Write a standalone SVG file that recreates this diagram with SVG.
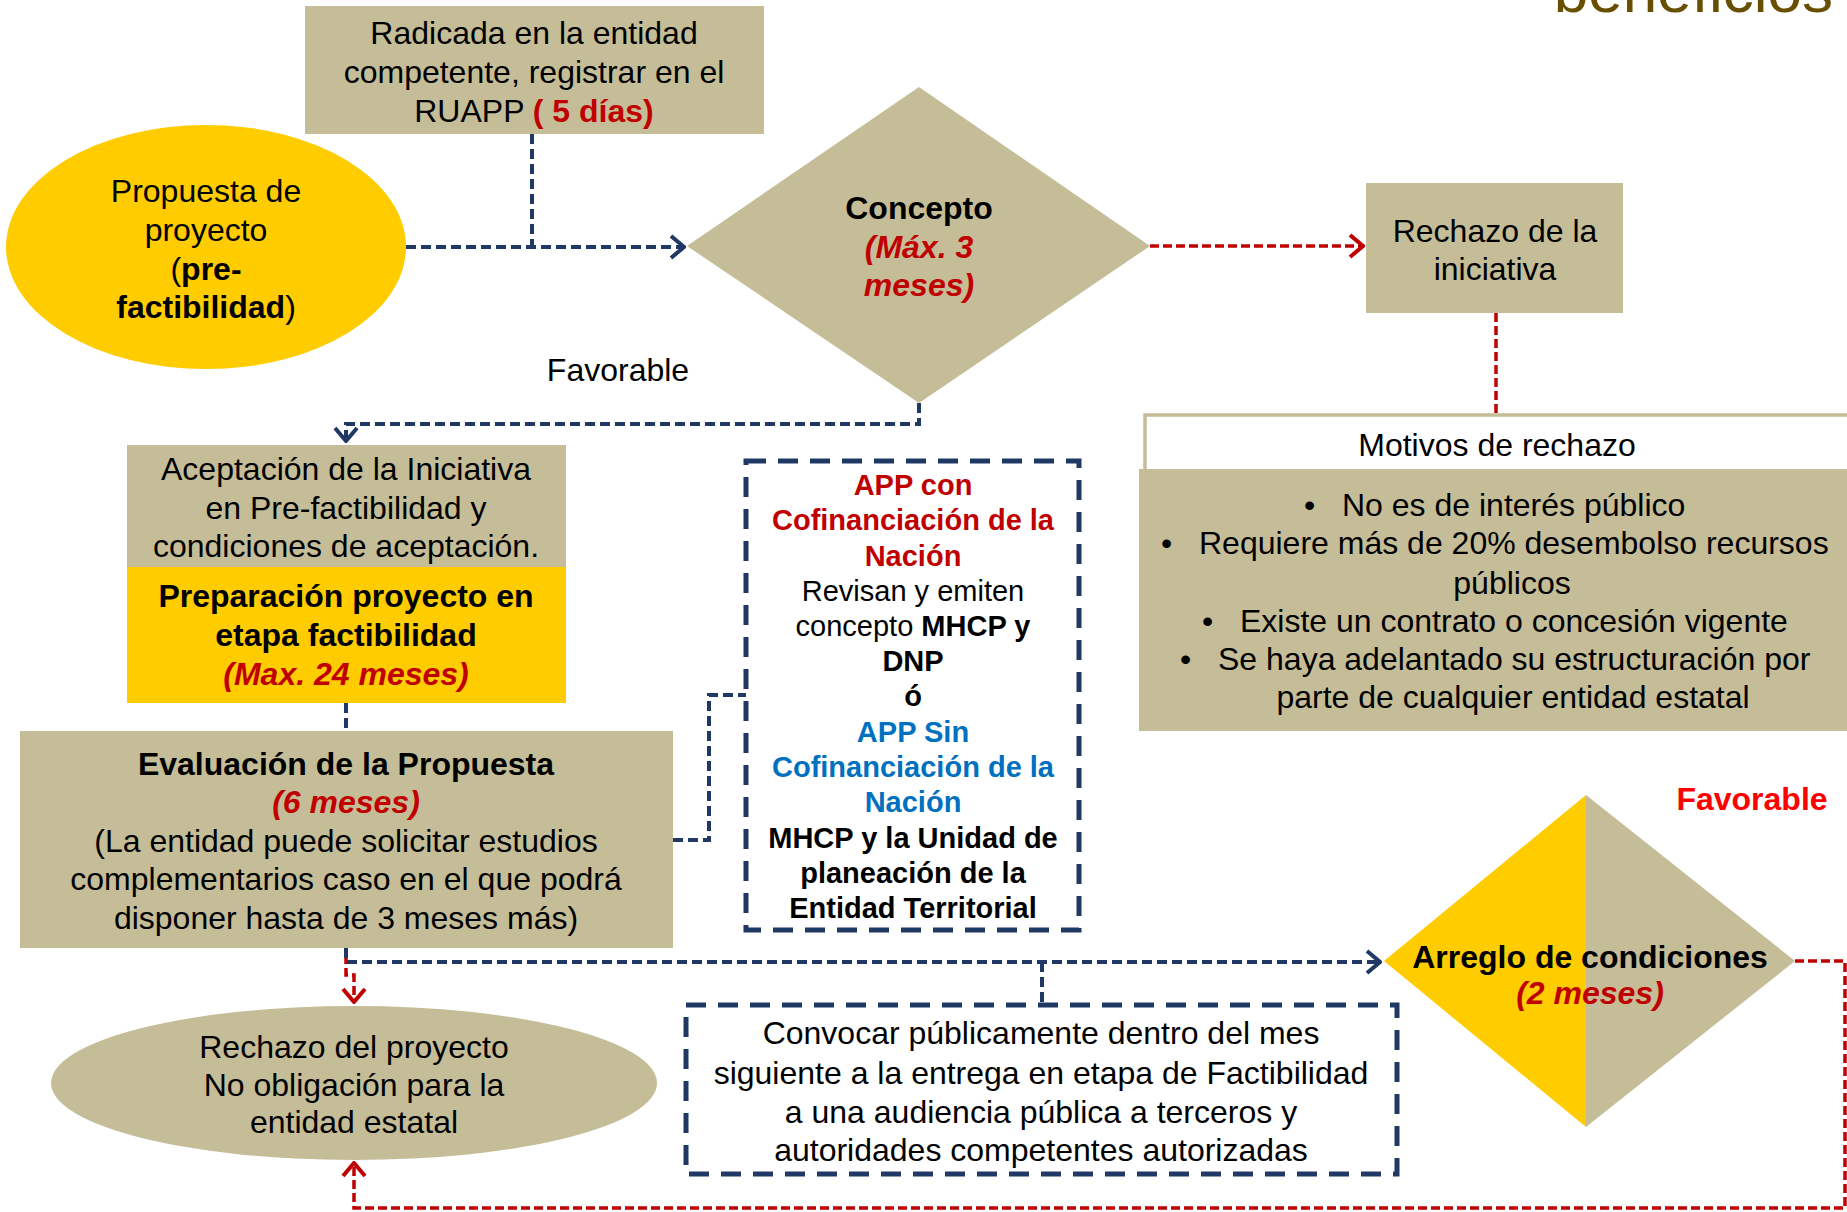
<svg xmlns="http://www.w3.org/2000/svg" width="1847" height="1212" viewBox="0 0 1847 1212">
<style>
text{font-family:"Liberation Sans",Arial,sans-serif;font-size:32px;fill:#000;text-anchor:middle}
.b{font-weight:bold}
.ri{fill:#C00000;font-weight:bold;font-style:italic}
.s{font-size:29px}
.red{fill:#C00000}
.blue{fill:#0070C0}
.khaki{fill:#C4BD97}
.gold{fill:#FFCC00}
.nav{fill:none;stroke:#1F3864;stroke-width:4;stroke-dasharray:10 5}
.rd{fill:none;stroke:#C00000;stroke-width:3.5;stroke-dasharray:9 4}
.box{fill:none;stroke:#1F3864;stroke-width:5;stroke-dasharray:20 12}
.l{text-anchor:start}
</style>
<defs>
<marker id="an" viewBox="-16 -14 18 28" refX="0" refY="0" markerWidth="18" markerHeight="28" markerUnits="userSpaceOnUse" orient="auto">
<path d="M-13,-11 L0,0 L-13,11" fill="none" stroke="#1F3864" stroke-width="4" stroke-dasharray="none"/>
</marker>
<marker id="ar" viewBox="-16 -14 18 28" refX="0" refY="0" markerWidth="18" markerHeight="28" markerUnits="userSpaceOnUse" orient="auto">
<path d="M-13,-11 L0,0 L-13,11" fill="none" stroke="#C00000" stroke-width="4" stroke-dasharray="none"/>
</marker>
</defs>

<text x="1833" y="12" style="font-size:62px;fill:#674E00;text-anchor:end">beneficios</text>

<g id="connectors">
<path class="nav" d="M406 247 H684" marker-end="url(#an)"/>
<path class="nav" d="M532 134 V247"/>
<path class="nav" d="M919 403 V424 H346 V441" marker-end="url(#an)"/>
<path class="nav" d="M346 703 V731"/>
<path class="nav" d="M673 840 H709 V695 H746"/>
<path class="rd" d="M346 955 V975 H354 V1002" marker-end="url(#ar)"/>
<path class="nav" d="M346 948 V962 H1380" marker-end="url(#an)"/>
<path class="nav" d="M1042 962 V1005"/>
<path class="rd" d="M1150 246 H1363" marker-end="url(#ar)"/>
<path class="rd" d="M1496 313 V415"/>
<path class="rd" d="M1795 961 H1845 V1208 H354 V1163" marker-end="url(#ar)"/>
</g>

<g id="radicada">
<rect class="khaki" x="305" y="6" width="459" height="128"/>
<text x="534" y="44">Radicada en la entidad</text>
<text x="534" y="83">competente, registrar en el</text>
<text x="534" y="122">RUAPP <tspan class="b red">( 5 días)</tspan></text>
</g>

<g id="propuesta">
<ellipse class="gold" cx="206" cy="247" rx="200" ry="122"/>
<text x="206" y="202">Propuesta de</text>
<text x="206" y="241">proyecto</text>
<text x="206" y="280">(<tspan class="b">pre-</tspan></text>
<text x="206" y="318"><tspan class="b">factibilidad</tspan>)</text>
</g>

<g id="concepto">
<polygon class="khaki" points="919,87 1150,246 919,403 687,246"/>
<text x="919" y="219" class="b">Concepto</text>
<text x="919" y="258" class="ri">(Máx. 3</text>
<text x="919" y="296" class="ri">meses)</text>
</g>

<g id="rechazo-iniciativa">
<rect class="khaki" x="1366" y="183" width="257" height="130"/>
<text x="1495" y="242">Rechazo de la</text>
<text x="1495" y="280">iniciativa</text>
</g>

<text x="618" y="381">Favorable</text>

<g id="motivos">
<rect x="1145" y="415" width="720" height="60" fill="#fff" stroke="#C4BD97" stroke-width="3.5"/>
<text x="1497" y="456">Motivos de rechazo</text>
<rect class="khaki" x="1139" y="469" width="708" height="262"/>
<text class="l" x="1304" y="516">•</text><text class="l" x="1342" y="516">No es de interés público</text>
<text class="l" x="1161" y="554">•</text><text class="l" x="1199" y="554">Requiere más de 20% desembolso recursos</text>
<text x="1512" y="594">públicos</text>
<text class="l" x="1202" y="632">•</text><text class="l" x="1240" y="632">Existe un contrato o concesión vigente</text>
<text class="l" x="1180" y="670">•</text><text class="l" x="1218" y="670">Se haya adelantado su estructuración por</text>
<text x="1513" y="708">parte de cualquier entidad estatal</text>
</g>

<g id="aceptacion">
<rect class="khaki" x="127" y="445" width="439" height="122"/>
<rect class="gold" x="127" y="567" width="439" height="136"/>
<text x="346" y="480">Aceptación de la Iniciativa</text>
<text x="346" y="519">en Pre-factibilidad y</text>
<text x="346" y="557">condiciones de aceptación.</text>
<text x="346" y="607" class="b">Preparación proyecto en</text>
<text x="346" y="646" class="b">etapa factibilidad</text>
<text x="346" y="685" class="ri">(Max. 24 meses)</text>
</g>

<g id="evaluacion">
<rect class="khaki" x="20" y="731" width="653" height="217"/>
<text x="346" y="775" class="b">Evaluación de la Propuesta</text>
<text x="346" y="813" class="ri">(6 meses)</text>
<text x="346" y="852">(La entidad puede solicitar estudios</text>
<text x="346" y="890">complementarios caso en el que podrá</text>
<text x="346" y="929">disponer hasta de 3 meses más)</text>
</g>

<g id="app">
<rect class="box" x="746" y="461" width="333" height="469"/>
<text class="s b red" x="913" y="495">APP con</text>
<text class="s b red" x="913" y="530">Cofinanciación de la</text>
<text class="s b red" x="913" y="566">Nación</text>
<text class="s" x="913" y="601">Revisan y emiten</text>
<text class="s" x="913" y="636">concepto <tspan class="b">MHCP y</tspan></text>
<text class="s b" x="913" y="671">DNP</text>
<text class="s b" x="913" y="706">ó</text>
<text class="s b blue" x="913" y="742">APP Sin</text>
<text class="s b blue" x="913" y="777">Cofinanciación de la</text>
<text class="s b blue" x="913" y="812">Nación</text>
<text class="s b" x="913" y="848">MHCP y la Unidad de</text>
<text class="s b" x="913" y="883">planeación de la</text>
<text class="s b" x="913" y="918">Entidad Territorial</text>
</g>

<g id="rechazo-proyecto">
<ellipse class="khaki" cx="354" cy="1083" rx="303" ry="77"/>
<text x="354" y="1058">Rechazo del proyecto</text>
<text x="354" y="1096">No obligación para la</text>
<text x="354" y="1133">entidad estatal</text>
</g>

<g id="convocar">
<rect class="box" x="686" y="1005" width="711" height="169"/>
<text x="1041" y="1044">Convocar públicamente dentro del mes</text>
<text x="1041" y="1084">siguiente a la entrega en etapa de Factibilidad</text>
<text x="1041" y="1123">a una audiencia pública a terceros y</text>
<text x="1041" y="1161">autoridades competentes autorizadas</text>
</g>

<g id="arreglo">
<polygon class="gold" points="1586,795 1586,1127 1384,961"/>
<polygon class="khaki" points="1586,795 1795,961 1586,1127"/>
<text x="1590" y="968" class="b">Arreglo de condiciones</text>
<text x="1590" y="1004" class="ri">(2 meses)</text>
</g>

<text x="1752" y="810" class="b" style="fill:#FF0000">Favorable</text>
</svg>
